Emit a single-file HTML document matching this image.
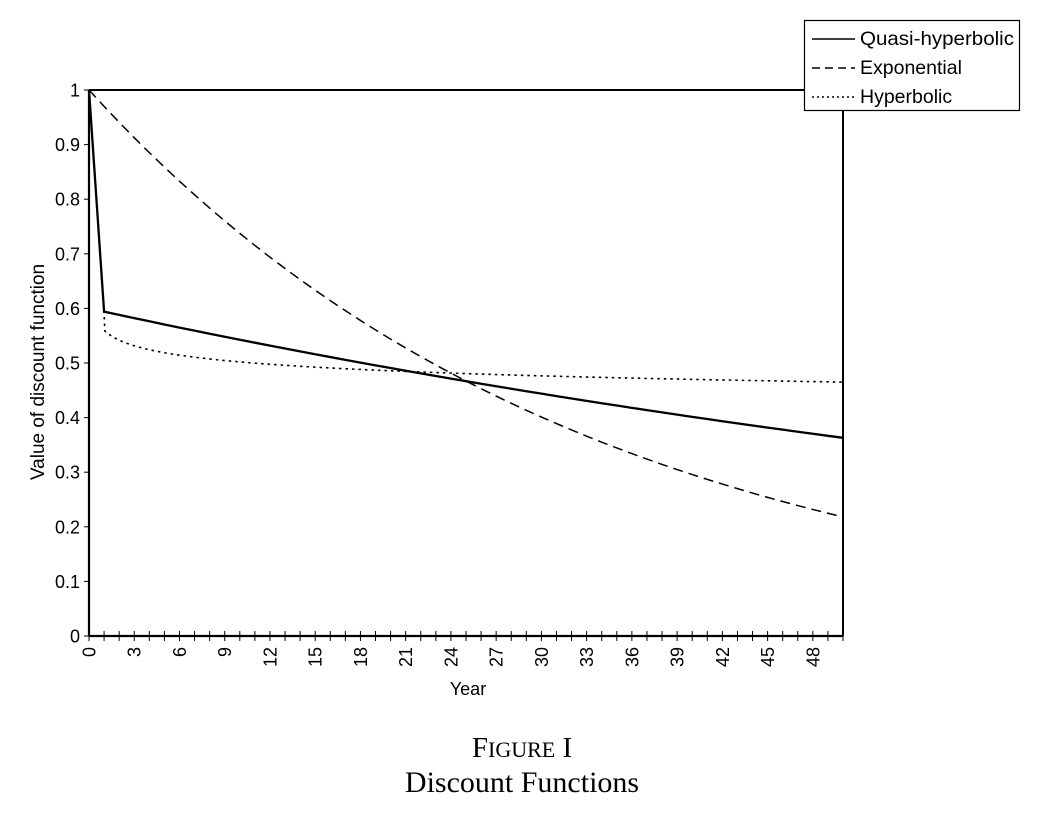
<!DOCTYPE html>
<html><head><meta charset="utf-8"><style>
html,body{margin:0;padding:0;background:#fff;}
svg{display:block;}
text{font-family:"Liberation Sans",Arial,sans-serif;fill:#000;}
</style></head><body>
<svg id="s" width="1060" height="833" viewBox="0 0 1060 833" xmlns="http://www.w3.org/2000/svg">
<g id="g"></g>
<rect x="804.5" y="20.5" width="215" height="90" fill="#fff" stroke="#000" stroke-width="1.2"/>
<line x1="812" y1="39" x2="855" y2="39" stroke="#000" stroke-width="1.6"/>
<line x1="812" y1="68" x2="855" y2="68" stroke="#000" stroke-width="1.4" stroke-dasharray="8,5"/>
<line x1="812" y1="97" x2="855" y2="97" stroke="#000" stroke-width="1.4" stroke-dasharray="2,3"/>
<text x="860" y="45" font-size="19.5" textLength="154" lengthAdjust="spacingAndGlyphs">Quasi-hyperbolic</text>
<text x="860" y="74" font-size="19.5">Exponential</text>
<text x="860" y="103" font-size="19.5">Hyperbolic</text>
<text transform="translate(44,372) rotate(-90)" font-size="19" text-anchor="middle">Value of discount function</text>
<text x="468" y="695" font-size="18" text-anchor="middle">Year</text>
<text x="522" y="757" font-size="29" text-anchor="middle" style="font-family:'Liberation Serif',serif">F<tspan font-size="22">IGURE</tspan> I</text>
<text x="522" y="792" font-size="30" text-anchor="middle" style="font-family:'Liberation Serif',serif">Discount Functions</text>
</svg>
<script>
var g=document.getElementById('g'),h='';
function X(t){return 89+15.08*t;}function Y(v){return 636-546*v;}
h+='<line x1="89" y1="90" x2="843" y2="90" stroke="#000" stroke-width="2"/>';
h+='<line x1="843" y1="90" x2="843" y2="636" stroke="#000" stroke-width="2"/>';
h+='<line x1="89" y1="90" x2="89" y2="636" stroke="#000" stroke-width="2.2"/>';
h+='<line x1="89" y1="636" x2="843" y2="636" stroke="#000" stroke-width="2.2"/>';
for(var i=0;i<=10;i++){var y=Y(i/10);h+='<line x1="84" y1="'+y+'" x2="89" y2="'+y+'" stroke="#000"/>';
h+='<text x="80" y="'+(y+6.5)+'" font-size="18" text-anchor="end">'+(i==0?'0':i==10?'1':'0.'+i)+'</text>';}
for(var t=0;t<=50;t++){var x=X(t);h+='<line x1="'+x+'" y1="631" x2="'+x+'" y2="641" stroke="#000"/>';
if(t%3==0&&t<=48)h+='<text transform="translate('+(x+6.5)+',647) rotate(-90)" font-size="18" text-anchor="end">'+t+'</text>';}
var q='',e='',hy='';
for(var t=0;t<=50;t++){var qv=t==0?1:0.6*Math.pow(0.99,t);q+=(t?'L':'M')+X(t)+','+Y(qv);
e+=(t?'L':'M')+X(t)+','+Y(Math.pow(0.97,t));}
hy='M'+X(0)+','+Y(1)+'L'+X(1)+','+Y(0.59);
for(var t=1.05;t<=50.001;t+=(t<3?0.05:0.5)){hy+='L'+X(t)+','+Y(Math.pow(1+2e5*t,-0.0475));}
hy+='L'+X(50)+','+Y(Math.pow(1+2e5*50,-0.0475));
h+='<path d="'+q+'" fill="none" stroke="#000" stroke-width="2.3"/>';
h+='<path d="'+e+'" fill="none" stroke="#000" stroke-width="1.5" stroke-dasharray="10,6"/>';
h+='<path d="'+hy+'" fill="none" stroke="#000" stroke-width="1.6" stroke-dasharray="2.5,4"/>';
g.innerHTML=h;
</script>
</body></html>
